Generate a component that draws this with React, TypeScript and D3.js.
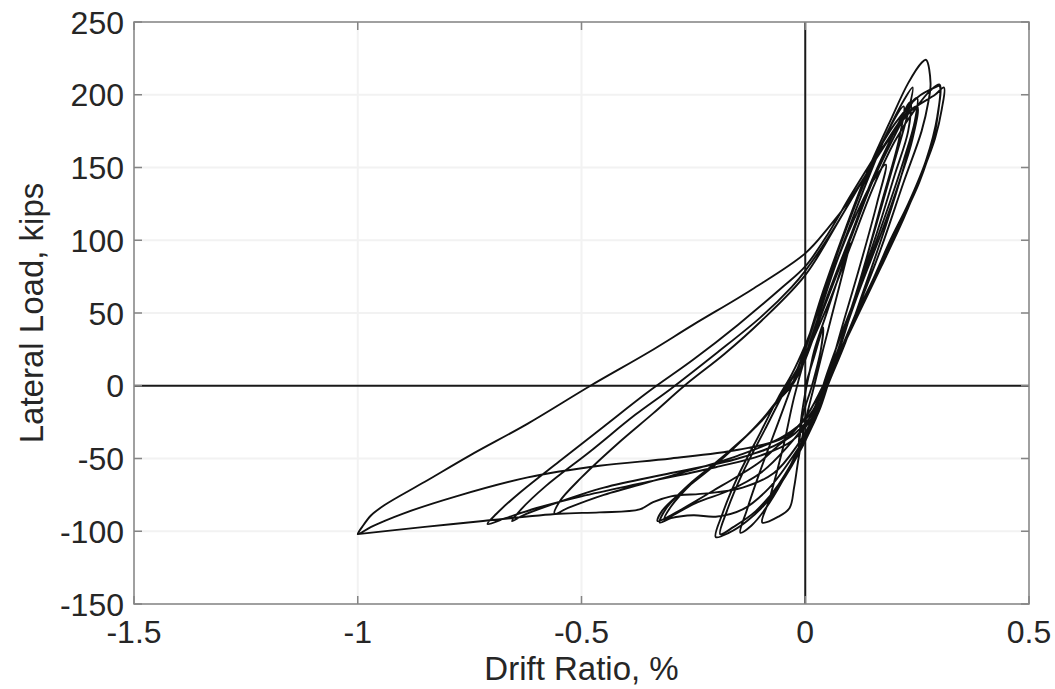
import React from "react";
import * as d3 from "d3";

// ---- data (drift ratio %, lateral load kips) ----
const cycle0: [number, number][] = [[0, 0], [0.02, 20], [0.04, 40], [0.035, 25], [0.015, 0], [-0.005, -20], [-0.015, -42], [-0.01, -25], [0.0, -5], [0.01, 10]];
const cycle1: [number, number][] = [[0.02, 24], [0.05, 52], [0.08, 80], [0.1, 98], [0.09, 85], [0.065, 55], [0.04, 25], [0.02, 0], [0.0, -25], [-0.015, -50], [-0.025, -70], [-0.035, -84], [-0.06, -90], [-0.096, -94], [-0.08, -78], [-0.05, -43], [-0.025, -8], [0.0, 20]];
const cycle2: [number, number][] = [[0.03, 48], [0.07, 85], [0.11, 115], [0.15, 140], [0.18, 152], [0.16, 125], [0.12, 80], [0.08, 38], [0.05, 5], [0.03, -15], [-0.01, -40], [-0.05, -65], [-0.09, -85], [-0.12, -96], [-0.145, -101], [-0.13, -85], [-0.1, -58], [-0.06, -25], [-0.03, 0], [0.0, 25]];
const cycle3: [number, number][] = [[0.04, 62], [0.08, 98], [0.13, 138], [0.18, 172], [0.22, 196], [0.24, 205], [0.23, 188], [0.2, 155], [0.16, 112], [0.12, 70], [0.08, 30], [0.05, 0], [0.02, -25], [-0.03, -55], [-0.08, -78], [-0.13, -93], [-0.17, -101], [-0.2, -104], [-0.185, -88], [-0.15, -62], [-0.1, -32], [-0.06, -8], [-0.03, 8], [0.0, 28]];
const cycle3b: [number, number][] = [[0.04, 60], [0.09, 102], [0.14, 142], [0.19, 178], [0.22, 192], [0.21, 170], [0.17, 125], [0.13, 80], [0.09, 38], [0.055, 5], [0.03, -18], [-0.01, -42], [-0.06, -68], [-0.11, -86], [-0.16, -97], [-0.19, -102], [-0.175, -86], [-0.14, -60], [-0.09, -30], [-0.05, -6], [-0.02, 10], [0.0, 26]];
const cycle4: [number, number][] = [[0.04, 65], [0.09, 108], [0.14, 148], [0.19, 182], [0.23, 208], [0.26, 222], [0.27, 224], [0.28, 208], [0.275, 195], [0.26, 175], [0.22, 140], [0.17, 95], [0.12, 55], [0.08, 25], [0.045, 0], [0.015, -20], [-0.02, -32], [-0.056, -40], [-0.1, -52], [-0.15, -62], [-0.205, -72], [-0.26, -82], [-0.3, -89], [-0.33, -93], [-0.32, -86], [-0.28, -74], [-0.2, -54], [-0.13, -34], [-0.085, -19], [-0.04, 0], [0.0, 22]];
const cycle5: [number, number][] = [[0.05, 60], [0.1, 100], [0.15, 140], [0.2, 172], [0.24, 195], [0.25, 198], [0.245, 180], [0.22, 150], [0.18, 110], [0.13, 65], [0.09, 30], [0.05, 0], [0.02, -25], [-0.02, -45], [-0.08, -70], [-0.14, -85], [-0.2, -90], [-0.25, -89], [-0.3, -91], [-0.325, -94], [-0.31, -84], [-0.26, -68], [-0.18, -48], [-0.11, -28], [-0.06, -10], [-0.03, 0], [0.0, 18]];
const cycle5b: [number, number][] = [[0.05, 62], [0.1, 102], [0.15, 142], [0.2, 175], [0.235, 195], [0.23, 175], [0.2, 145], [0.16, 105], [0.11, 60], [0.07, 22], [0.04, 0], [0.01, -22], [-0.04, -42], [-0.1, -60], [-0.17, -72], [-0.24, -80], [-0.29, -88], [-0.315, -92], [-0.3, -83], [-0.25, -66], [-0.17, -45], [-0.1, -25], [-0.05, -6], [-0.02, 6], [0.0, 20]];
const cycle6: [number, number][] = [[0.05, 55], [0.1, 95], [0.15, 135], [0.2, 168], [0.25, 192], [0.28, 203], [0.3, 207], [0.295, 185], [0.27, 155], [0.23, 125], [0.19, 100], [0.15, 72], [0.115, 50], [0.08, 25], [0.05, 0], [0.02, -20], [-0.03, -38], [-0.1, -48], [-0.2, -56], [-0.35, -66], [-0.5, -76], [-0.6, -84], [-0.67, -91], [-0.71, -95], [-0.69, -88], [-0.64, -74], [-0.55, -52], [-0.45, -28], [-0.35, -4], [-0.25, 18], [-0.15, 42], [-0.05, 68], [0.0, 82], [0.05, 104], [0.1, 130], [0.15, 155], [0.2, 180], [0.25, 198], [0.29, 205], [0.3, 206]];
const cycle7: [number, number][] = [[0.298, 190], [0.285, 168], [0.255, 140], [0.21, 110], [0.16, 78], [0.11, 45], [0.07, 18], [0.04, 0], [0.0, -22], [-0.05, -38], [-0.15, -50], [-0.3, -60], [-0.45, -70], [-0.57, -82], [-0.63, -89], [-0.655, -93], [-0.635, -85], [-0.58, -69], [-0.48, -45], [-0.38, -20], [-0.3, -2], [-0.2, 22], [-0.1, 47], [-0.03, 68], [0.0, 79], [0.06, 106], [0.12, 137], [0.18, 167], [0.22, 185], [0.25, 192]];
const cycle8: [number, number][] = [[0.24, 170], [0.21, 140], [0.17, 105], [0.12, 65], [0.08, 30], [0.045, 0], [0.01, -20], [-0.05, -35], [-0.15, -48], [-0.3, -62], [-0.45, -75], [-0.53, -84], [-0.56, -88], [-0.55, -80], [-0.5, -63], [-0.42, -40], [-0.34, -19], [-0.27, 0], [-0.18, 22], [-0.1, 44], [0.0, 76], [0.08, 116], [0.15, 152], [0.2, 175], [0.24, 190], [0.29, 200], [0.31, 205]];
const cycle9: [number, number][] = [[0.305, 190], [0.29, 170], [0.26, 145], [0.22, 115], [0.17, 82], [0.12, 50], [0.07, 18], [0.04, 0], [0.0, -22], [-0.05, -36], [-0.15, -44], [-0.3, -50], [-0.46, -55], [-0.62, -63], [-0.78, -76], [-0.9, -88], [-0.97, -97], [-1.0, -102], [-0.99, -97], [-0.97, -89], [-0.94, -82], [-0.85, -66], [-0.75, -48], [-0.62, -26], [-0.48, 0], [-0.35, 23], [-0.25, 42], [-0.12, 66], [0.0, 91], [0.05, 108], [0.1, 128], [0.15, 152], [0.2, 176], [0.23, 192], [0.25, 198]];
const cycle10: [number, number][] = [[0.245, 182], [0.22, 155], [0.18, 118], [0.13, 75], [0.08, 35], [0.045, 5], [0.02, -20], [-0.02, -42], [-0.07, -60], [-0.14, -70], [-0.22, -74], [-0.3, -76], [-0.34, -80], [-0.37, -85], [-0.46, -87], [-0.55, -88], [-0.72, -93], [-0.85, -97], [-1.0, -102]];

const cycles = [cycle0, cycle1, cycle2, cycle3, cycle3b, cycle4, cycle5, cycle5b, cycle6, cycle7, cycle8, cycle9, cycle10];

const xTicks = [-1.5, -1, -0.5, 0, 0.5];
const xTickLabels = ["-1.5", "-1", "-0.5", "0", "0.5"];
const yTicks = [250, 200, 150, 100, 50, 0, -50, -100, -150];
const yTickLabels = ["250", "200", "150", "100", "50", "0", "-50", "-100", "-150"];

const xLabel = "Drift Ratio, %";
const yLabel = "Lateral Load, kips";

export default function App() {
  const W = 1055, H = 689;
  const left = 134, right = 1029, top = 22, bottom = 604;
  const x = d3.scaleLinear().domain([-1.5, 0.5]).range([left, right]);
  const y = d3.scaleLinear().domain([-150, 250]).range([bottom, top]);
  const pts = cycles.flat();
  const line = d3
    .line<[number, number]>()
    .x((d) => x(d[0]))
    .y((d) => y(d[1]))
    .curve(d3.curveCatmullRom.alpha(0.5));
  const font = "'Liberation Sans', Arial, sans-serif";
  const tickLen = 8;
  const axisColor = "#858585";
  const textColor = "#262626";
  return (
    <svg width={W} height={H} style={{ position: "absolute", left: 0, top: 0, background: "#fff" }}>
      <rect x={0} y={0} width={W} height={H} fill="#fff" />
      {/* grid */}
      {xTicks.map((t) => (
        <line key={"gx" + t} x1={x(t)} x2={x(t)} y1={top} y2={bottom} stroke="#f2f2f2" strokeWidth={2} />
      ))}
      {yTicks.map((t) => (
        <line key={"gy" + t} x1={left} x2={right} y1={y(t)} y2={y(t)} stroke="#f2f2f2" strokeWidth={2} />
      ))}
      {/* zero lines */}
      <line x1={x(0)} x2={x(0)} y1={top} y2={bottom} stroke="#1a1a1a" strokeWidth={2} />
      <line x1={left} x2={right} y1={y(0)} y2={y(0)} stroke="#1a1a1a" strokeWidth={2} />
      {/* curve */}
      <path d={line(pts) || ""} fill="none" stroke="#111" strokeWidth={1.9} strokeLinejoin="round" />
      {/* box */}
      <rect x={left} y={top} width={right - left} height={bottom - top} fill="none" stroke={axisColor} strokeWidth={1.5} />
      {/* ticks */}
      {xTicks.map((t) => (
        <g key={"tx" + t}>
          <line x1={x(t)} x2={x(t)} y1={bottom} y2={bottom - tickLen} stroke={axisColor} strokeWidth={1.5} />
          <line x1={x(t)} x2={x(t)} y1={top} y2={top + tickLen} stroke={axisColor} strokeWidth={1.5} />
        </g>
      ))}
      {yTicks.map((t) => (
        <g key={"ty" + t}>
          <line x1={left} x2={left + tickLen} y1={y(t)} y2={y(t)} stroke={axisColor} strokeWidth={1.5} />
          <line x1={right} x2={right - tickLen} y1={y(t)} y2={y(t)} stroke={axisColor} strokeWidth={1.5} />
        </g>
      ))}
      {/* tick labels */}
      {xTicks.map((t, i) => (
        <text key={"lx" + t} x={x(t)} y={643} textAnchor="middle" fontFamily={font} fontSize={32} fill={textColor}>
          {xTickLabels[i]}
        </text>
      ))}
      {yTicks.map((t, i) => (
        <text key={"ly" + t} x={left - 10} y={y(t) + 11.5} textAnchor="end" fontFamily={font} fontSize={32} fill={textColor}>
          {yTickLabels[i]}
        </text>
      ))}
      {/* axis labels */}
      <text x={(left + right) / 2} y={680} textAnchor="middle" fontFamily={font} fontSize={33} fill={textColor}>
        {xLabel}
      </text>
      <text transform={`translate(43, ${(top + bottom) / 2}) rotate(-90)`} textAnchor="middle" fontFamily={font} fontSize={33} fill={textColor}>
        {yLabel}
      </text>
    </svg>
  );
}
